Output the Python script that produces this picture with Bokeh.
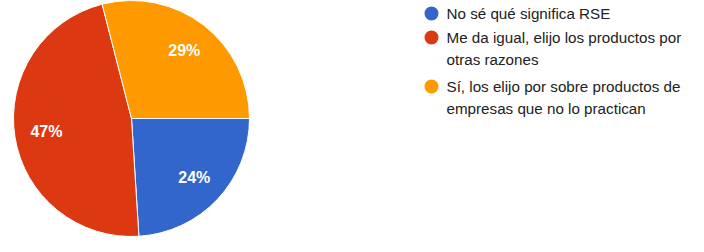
import numpy as np
from bokeh.plotting import figure
from bokeh.models import Range1d, ColumnDataSource
from bokeh.embed import file_html
from bokeh.resources import INLINE
from bokeh.core.properties import value

# ---- data ----
categories = [
    "No sé qué significa RSE",
    "Me da igual, elijo los productos por otras razones",
    "Sí, los elijo por sobre productos de empresas que no lo practican",
]
legend_lines = [
    ["No sé qué significa RSE"],
    ["Me da igual, elijo los productos por", "otras razones"],
    ["Sí, los elijo por sobre productos de", "empresas que no lo practican"],
]
percents = [24, 47, 29]
colors = ["#3366cc", "#dc3912", "#ff9900"]

W, H = 688, 236
p = figure(width=W, height=H, output_backend="svg", toolbar_location=None,
           x_range=Range1d(0, W), y_range=Range1d(0, H), min_border=0)
p.axis.visible = False
p.grid.visible = False
p.outline_line_color = None
p.background_fill_color = "white"

cx, cy, r = 131, H - 118, 118
frac = np.array(percents, dtype=float) / sum(percents)
cum = np.concatenate([[0], np.cumsum(frac)])
start = -cum[1:] * 2 * np.pi
end = -cum[:-1] * 2 * np.pi
mid = -(cum[:-1] + frac / 2) * 2 * np.pi

src = ColumnDataSource(dict(start=start, end=end, color=colors, cat=categories))
p.wedge(x=cx, y=cy, radius=r, start_angle="start", end_angle="end",
        fill_color="color", line_color="white", line_width=1, source=src)

lab = ColumnDataSource(dict(
    x=cx + 0.73 * r * np.cos(mid),
    y=cy + 0.73 * r * np.sin(mid),
    t=[f"{v}%" for v in percents]))
p.text(x="x", y="y", text="t", source=lab, text_color="white",
       text_font=value("Liberation Sans"), text_font_style="bold",
       text_font_size="16px", text_align="center", text_baseline="middle")

# legend
item_y = [13, 37, 86]
line_gap = 22
lx, ly, lt = [], [], []
for i, lines in enumerate(legend_lines):
    for j, ln in enumerate(lines):
        lx.append(446)
        ly.append(H - (item_y[i] + j * line_gap))
        lt.append(ln)
p.scatter(x=[431] * 3, y=[H - y for y in item_y], size=14, marker="circle",
          fill_color=colors, line_color=None)
p.text(x=lx, y=ly, text=lt, text_color="#222222",
       text_font=value("Liberation Sans"), text_font_size="15.2px",
       text_align="left", text_baseline="middle")

open("out.html", "w").write(file_html(p, INLINE))
